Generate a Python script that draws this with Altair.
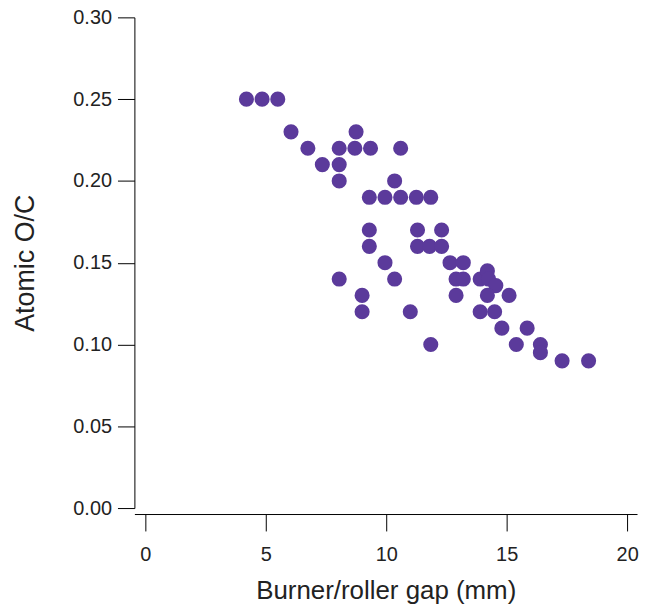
import altair as alt
import pandas as pd

gap_mm = [4.2, 4.85, 5.5, 6.05, 8.75, 6.75, 8.05, 8.7, 9.35, 10.6,
          7.35, 8.05, 8.05, 10.35, 9.3, 9.95, 10.6, 11.25, 11.85,
          9.3, 11.3, 12.3, 9.3, 11.3, 11.8, 12.3, 9.95, 12.65, 13.2,
          8.05, 10.35, 12.9, 13.2, 13.9, 14.2, 14.25, 14.55,
          9.0, 12.9, 14.2, 15.1, 9.0, 11.0, 13.9, 14.5,
          14.8, 15.85, 11.85, 15.4, 16.4, 16.4, 17.3, 18.4]
atomic_oc = [0.25, 0.25, 0.25, 0.23, 0.23, 0.22, 0.22, 0.22, 0.22, 0.22,
             0.21, 0.21, 0.20, 0.20, 0.19, 0.19, 0.19, 0.19, 0.19,
             0.17, 0.17, 0.17, 0.16, 0.16, 0.16, 0.16, 0.15, 0.15, 0.15,
             0.14, 0.14, 0.14, 0.14, 0.14, 0.145, 0.14, 0.136,
             0.13, 0.13, 0.13, 0.13, 0.12, 0.12, 0.12, 0.12,
             0.11, 0.11, 0.10, 0.10, 0.10, 0.095, 0.09, 0.09]

df = pd.DataFrame({"gap": gap_mm, "oc": atomic_oc})

font = "Liberation Sans"

chart = alt.Chart(df).mark_circle(size=230, opacity=1, color="#5B3A9B").encode(
    x=alt.X("gap:Q",
            scale=alt.Scale(domain=[-0.45, 20.41], nice=False, zero=False),
            axis=alt.Axis(title="Burner/roller gap (mm)", values=[0, 5, 10, 15, 20],
                          format="d", grid=False, offset=6, tickSize=17,
                          labelPadding=14, labelFontSize=20, titleFontSize=26,
                          titlePadding=13, labelFont=font, titleFont=font,
                          domainColor="#000", tickColor="#000",
                          labelColor="#222", titleColor="#222",
                          titleFontWeight="normal", labelFlush=False)),
    y=alt.Y("oc:Q",
            scale=alt.Scale(domain=[0, 0.30], nice=False),
            axis=alt.Axis(title="Atomic O/C", values=[0, 0.05, 0.10, 0.15, 0.20, 0.25, 0.30],
                          format=".2f", grid=False, tickSize=17,
                          labelPadding=6, labelFontSize=20, titleFontSize=27,
                          titlePadding=33, labelFont=font, titleFont=font,
                          domainColor="#000", tickColor="#000",
                          labelColor="#222", titleColor="#222",
                          titleFontWeight="normal", labelFlush=False)),
).properties(
    width=505, height=493,
    autosize=alt.AutoSizeParams(type="none"),
    padding={"left": 127, "top": 8, "right": 5, "bottom": 98},
).configure_view(stroke=None)

chart.save("out.html", embed_options={"renderer": "svg", "actions": False})
